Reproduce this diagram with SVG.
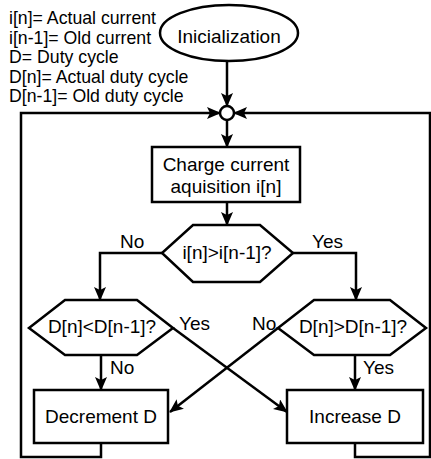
<svg xmlns="http://www.w3.org/2000/svg" width="431" height="459" viewBox="0 0 431 459">
<defs>
<marker id="ah" markerUnits="userSpaceOnUse" markerWidth="14" markerHeight="12" viewBox="0 0 14 12" refX="13" refY="6" orient="auto">
<path d="M0,0 L14,6 L0,12 L3,6 Z" fill="#000"/>
</marker>
</defs>
<style>
.s{fill:#fff;stroke:#000;stroke-width:2.5}
.c{fill:none;stroke:#000;stroke-width:2.5;marker-end:url(#ah)}
.t{font-family:"Liberation Sans",Arial,sans-serif;font-size:19px;fill:#000}
.m{text-anchor:middle}
.lg{font-size:17.7px}
</style>
<rect width="431" height="459" fill="#fff"/>
<g id="legend">
<text class="t lg" x="9" y="24">i[n]= Actual current</text>
<text class="t lg" x="9" y="44">i[n-1]= Old current</text>
<text class="t lg" x="9" y="63">D= Duty cycle</text>
<text class="t lg" x="9" y="83">D[n]= Actual duty cycle</text>
<text class="t lg" x="9" y="102">D[n-1]= Old duty cycle</text>
</g>
<g id="connectors">
<path class="c" d="M227,62 V106"/>
<path class="c" d="M101,443 V457 H21 V113 H220"/>
<path class="c" d="M355,443 V457 H430 V113 H234"/>
<path class="c" d="M227,120 V147"/>
<path class="c" d="M227,202 V225"/>
<path class="c" d="M162,253 H100 V300"/>
<path class="c" d="M293,253 H356 V300"/>
<path class="c" d="M101,355 V390"/>
<path class="c" d="M355,355 V390"/>
<path class="c" d="M173,328 L287,412"/>
<path class="c" d="M278,328 L170,412"/>
<text class="t" x="120" y="248">No</text>
<text class="t" x="312" y="248">Yes</text>
<text class="t" x="179" y="330">Yes</text>
<text class="t" x="252" y="330">No</text>
<text class="t" x="110" y="374">No</text>
<text class="t" x="363" y="374">Yes</text>
</g>
<g id="init">
<ellipse class="s" cx="229" cy="33" rx="69" ry="28"/>
<text class="t m" x="229" y="43">Inicialization</text>
</g>
<g id="junction">
<circle class="s" cx="227" cy="113" r="7"/>
</g>
<g id="acquisition">
<rect class="s" x="152" y="147" width="148" height="55"/>
<text class="t m" x="226" y="171">Charge current</text>
<text class="t m" x="226" y="193">aquisition i[n]</text>
</g>
<g id="decision1">
<polygon class="s" points="193,225 260,225 293,253 260,282 193,282 162,253"/>
<text class="t m" x="227" y="259">i[n]&gt;i[n-1]?</text>
</g>
<g id="decision2">
<polygon class="s" points="65,300 137,300 173,328 137,355 65,355 29,328"/>
<text class="t m" x="102" y="333">D[n]&lt;D[n-1]?</text>
</g>
<g id="decision3">
<polygon class="s" points="314,300 390,300 426,328 390,355 314,355 278,328"/>
<text class="t m" x="353" y="333">D[n]&gt;D[n-1]?</text>
</g>
<g id="decrement">
<rect class="s" x="34" y="390" width="134" height="53"/>
<text class="t m" x="101" y="423">Decrement D</text>
</g>
<g id="increase">
<rect class="s" x="287" y="390" width="136" height="53"/>
<text class="t m" x="355" y="423">Increase D</text>
</g>
</svg>
